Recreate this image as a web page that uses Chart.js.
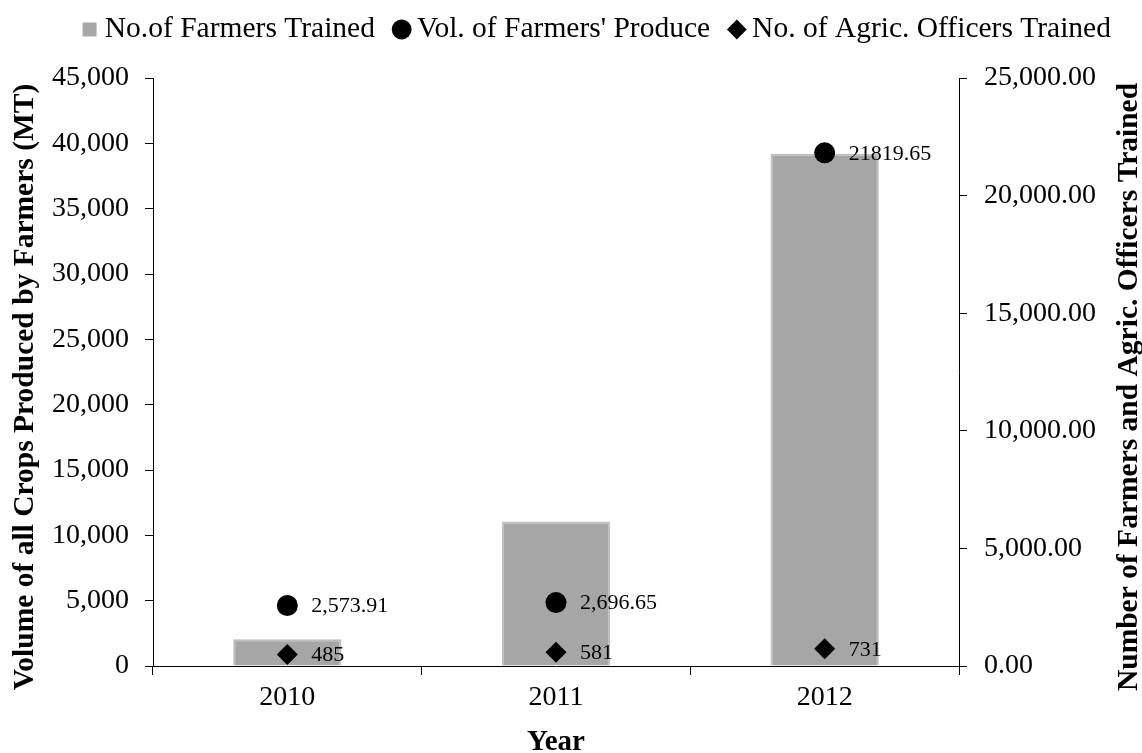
<!DOCTYPE html>
<html>
<head>
<meta charset="utf-8">
<script src="https://cdn.jsdelivr.net/npm/chart.js@4.4.1/dist/chart.umd.min.js"></script>
<style>
  html, body { margin: 0; padding: 0; background: #fff; }
  #wrap { width: 1142px; height: 753px; }
</style>
</head>
<body>
<div id="wrap"><canvas id="c" width="1142" height="753"></canvas></div>
<script>
// ---- data ----
const categories = ['2010', '2011', '2012'];
const seriesNames = ['No.of Farmers Trained', "Vol. of Farmers' Produce", 'No. of Agric. Officers Trained'];
const farmersTrained = [2050, 11050, 39200];          // read on left axis
const produceVolume = [2573.91, 2696.65, 21819.65];    // read on right axis
const officersTrained = [485, 581, 731];               // read on right axis
const produceLabels = ['2,573.91', '2,696.65', '21819.65'];
const officerLabels = ['485', '581', '731'];
const leftTicks = ['0', '5,000', '10,000', '15,000', '20,000', '25,000', '30,000', '35,000', '40,000', '45,000'];
const rightTicks = ['0.00', '5,000.00', '10,000.00', '15,000.00', '20,000.00', '25,000.00'];
const xTitle = 'Year';
const leftTitle = 'Volume of all Crops Produced by Farmers (MT)';
const rightTitle = 'Number of Farmers and Agric. Officers Trained';

// ---- styles ----
const FONT = '"Liberation Serif", "Times New Roman", serif';
const BAR_FILL = '#A6A6A6';
const BAR_EDGE = '#BEBEBE';
const legendStyles = ['rect', 'circle', 'rectRot'];
const legendColors = [BAR_FILL, '#000', '#000'];

Chart.defaults.font.family = FONT;
Chart.defaults.color = '#000';

const annotPlugin = {
  id: 'annot',
  afterDatasetsDraw(chart) {
    const ctx = chart.ctx;
    ctx.save();
    ctx.fillStyle = '#000';
    ctx.font = '22px ' + FONT;
    ctx.textAlign = 'left';
    ctx.textBaseline = 'middle';
    [[1, produceLabels], [2, officerLabels]].forEach(([di, labels]) => {
      chart.getDatasetMeta(di).data.forEach((pt, i) => {
        ctx.fillText(labels[i], pt.x + 24, pt.y + 1);
      });
    });
    ctx.restore();
  },
  afterDraw(chart) {
    const ctx = chart.ctx;
    const ca = chart.chartArea;
    const cy = (ca.top + ca.bottom) / 2 + 15;
    [[25, leftTitle], [1129, rightTitle]].forEach(([x, txt]) => {
      ctx.save();
      ctx.fillStyle = '#000';
      ctx.font = 'bold 29.5px ' + FONT;
      ctx.textAlign = 'center';
      ctx.textBaseline = 'middle';
      ctx.translate(x, cy);
      ctx.rotate(-Math.PI / 2);
      ctx.fillText(txt, 0, 0);
      ctx.restore();
    });
  }
};

new Chart(document.getElementById('c'), {
  type: 'bar',
  data: {
    labels: categories,
    datasets: [
      {
        type: 'bar',
        label: seriesNames[0],
        data: farmersTrained,
        yAxisID: 'yL',
        backgroundColor: BAR_FILL,
        borderColor: BAR_EDGE,
        borderWidth: 2,
        barPercentage: 0.403,
        categoryPercentage: 1,
        order: 3
      },
      {
        type: 'line',
        label: seriesNames[1],
        data: produceVolume,
        yAxisID: 'yR',
        showLine: false,
        pointStyle: 'circle',
        pointRadius: 10.5,
        pointBackgroundColor: '#000',
        pointBorderWidth: 0,
        order: 2
      },
      {
        type: 'line',
        label: seriesNames[2],
        data: officersTrained,
        yAxisID: 'yR',
        showLine: false,
        pointStyle: 'rectRot',
        pointRadius: 10.5,
        pointBackgroundColor: '#000',
        pointBorderWidth: 0,
        order: 1
      }
    ]
  },
  options: {
    responsive: false,
    devicePixelRatio: 1,
    animation: false,
    events: [],
    layout: { padding: { top: -11.5, left: 45, right: -13, bottom: 0 } },
    plugins: {
      tooltip: { enabled: false },
      title: {
        display: true, text: '', weight: 500, position: 'top',
        font: { size: 10, lineHeight: 1 }, padding: { top: 0, bottom: 13.75 }
      },
      legend: {
        display: true,
        position: 'top',
        labels: {
          usePointStyle: true,
          boxWidth: 1,
          boxHeight: 14,
          padding: 26.25,
          color: '#000',
          font: { size: 29.5, family: FONT },
          generateLabels: (chart) => chart.data.datasets.map((ds, i) => ({
            text: ds.label,
            fillStyle: legendColors[i],
            strokeStyle: legendColors[i],
            lineWidth: 0,
            pointStyle: legendStyles[i],
            hidden: false,
            datasetIndex: i,
            fontColor: '#000'
          }))
        }
      }
    },
    scales: {
      x: {
        type: 'category',
        offset: true,
        z: 1,
        grid: { offset: true, drawOnChartArea: false, drawTicks: true, tickLength: 9, color: '#000' },
        border: { display: true, color: '#000', width: 1 },
        ticks: { font: { size: 28 }, padding: 6, color: '#000' },
        title: { display: true, text: xTitle, font: { size: 29, weight: 'bold', lineHeight: 0.7 }, padding: 0, color: '#000' },
        afterFit: (s) => { s.height = 87; }
      },
      yL: {
        type: 'linear',
        position: 'left',
        min: 0, max: 45000,
        ticks: { stepSize: 5000, font: { size: 28 }, padding: 16, color: '#000',
                 callback: (v, i) => leftTicks[i] },
        grid: { drawOnChartArea: false, drawTicks: true, tickLength: 8, color: '#000' },
        border: { display: true, color: '#000', width: 1 },
        afterFit: (s) => { s.width = 108; }
      },
      yR: {
        type: 'linear',
        position: 'right',
        min: 0, max: 25000,
        ticks: { stepSize: 5000, font: { size: 28 }, padding: 17, color: '#000',
                 callback: (v, i) => rightTicks[i] },
        grid: { drawOnChartArea: false, drawTicks: true, tickLength: 8, color: '#000' },
        border: { display: true, color: '#000', width: 1 },
        afterFit: (s) => { s.width = 196; }
      }
    }
  },
  plugins: [annotPlugin]
});
</script>
</body>
</html>
